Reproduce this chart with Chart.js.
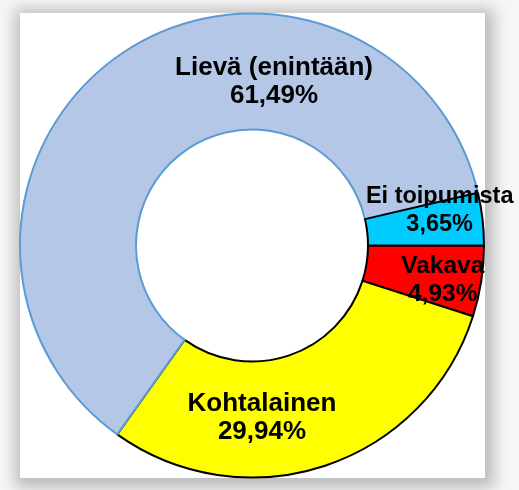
<!DOCTYPE html>
<html>
<head>
<meta charset="utf-8">
<script src="https://cdn.jsdelivr.net/npm/chart.js@4.4.1/dist/chart.umd.min.js"></script>
<style>
  html, body { margin: 0; padding: 0; width: 519px; height: 490px; overflow: hidden; background: #f6f6f6; }
  #panel { position: absolute; left: 20px; top: 13px; width: 465px; height: 465px; background: #fff;
           box-shadow: 2px 3px 14px 7px rgba(0,0,0,0.24); }
  #wrap { position: absolute; left: 0; top: 0; width: 519px; height: 490px; }
</style>
</head>
<body>
<div id="panel"></div>
<div id="wrap"><canvas id="c" width="519" height="490"></canvas></div>
<script>
// Data (clockwise from 3 o'clock)
const categories = ["Vakava", "Kohtalainen", "Lievä (enintään)", "Ei toipumista"];
const values = [4.93, 29.94, 61.49, 3.65];
const valueLabels = ["4,93%", "29,94%", "61,49%", "3,65%"];
const fillColors = ["#ff0000", "#ffff00", "#b4c7e7", "#00ccff"];
const borderColors = ["#000000", "#000000", "#5b9bd5", "#000000"];

// label placement (relative to centre, in outer-radius units; first-line baseline) and font sizes
const labelOffsets = [[0.822, 0.118], [0.043, 0.712], [0.095, -0.733], [0.809, -0.183]];
const labelFont = [24.5, 26, 26, 23.5];

const labelPlugin = {
  id: 'sliceLabels',
  afterDatasetsDraw(chart) {
    const ctx = chart.ctx;
    const meta = chart.getDatasetMeta(0);
    meta.data.forEach((arc, i) => {
      const R = arc.outerRadius;
      const x = arc.x + labelOffsets[i][0] * R;
      const y = arc.y + labelOffsets[i][1] * R;
      ctx.save();
      ctx.fillStyle = '#000';
      ctx.textAlign = 'center';
      ctx.textBaseline = 'alphabetic';
      ctx.font = 'bold ' + labelFont[i] + 'px "Liberation Sans", Arial, sans-serif';
      const gap = 28;
      ctx.fillText(categories[i], x, y);
      ctx.fillText(valueLabels[i], x, y + gap);
      ctx.restore();
    });
  }
};

new Chart(document.getElementById('c'), {
  type: 'doughnut',
  data: {
    labels: categories,
    datasets: [{
      data: values,
      backgroundColor: fillColors,
      borderColor: borderColors,
      borderWidth: 2,
      borderJoinStyle: 'miter'
    }]
  },
  options: {
    responsive: false,
    animation: false,
    rotation: 90,
    cutout: '50%',
    layout: { padding: { left: 19, right: 34, top: 12, bottom: 11 } },
    plugins: { legend: { display: false }, tooltip: { enabled: false } }
  },
  plugins: [labelPlugin]
});
</script>
</body>
</html>
